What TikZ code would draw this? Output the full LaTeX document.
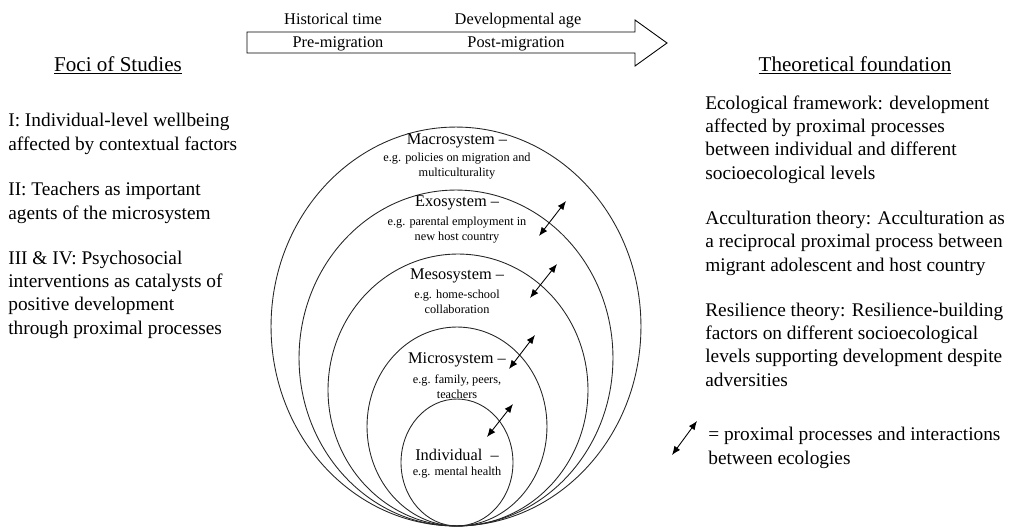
\documentclass[tikz,border=0pt]{standalone}
\usepackage{fontspec}
\setmainfont{Liberation Serif}
\usepackage{tikz}
\usetikzlibrary{shapes.geometric,arrows.meta,positioning}

\begin{document}
\begin{tikzpicture}[
  x=0.02cm, y=-0.02cm,
  body/.style={align=left, inner sep=0pt, font=\fontsize{11}{13.1}\selectfont},
  heading/.style={inner sep=0pt, font=\fontsize{12}{14}\selectfont},
  eco/.style={draw=black!85, line width=0.5pt, ellipse, inner sep=0pt},
  syshead/.style={inner sep=0pt, font=\fontsize{9.3}{11}\selectfont},
  sysnote/.style={align=center, inner sep=0pt, font=\fontsize{7}{8.6}\selectfont},
  timetext/.style={inner sep=0pt, font=\fontsize{9.3}{11}\selectfont},
  link/.style={<->, line width=0.5pt},
  >={Latex[length=5pt,width=4pt]}
]
\useasboundingbox (0,0) rectangle (1009,528);

% Time arrow
\draw[line width=0.5pt] (247,32) -- (635,32) -- (635,20) -- (667,43)
  -- (635,66) -- (635,53) -- (247,53) -- cycle;
\node[timetext, anchor=base] (hist) at (333,24) {Historical time};
\node[timetext, anchor=base] (devage) at (518,24) {Developmental age};
\node[timetext, anchor=base] (pre) at (338,47) {Pre-migration};
\node[timetext, anchor=base] (post) at (516,47) {Post-migration};

% Foci of studies (anchored on the last line)
\node[heading, anchor=base] (foci) at (118,71) {\underline{Foci of Studies}};
\node[body, anchor=base west] (focione) at (8,150)
  {I: Individual-level wellbeing\\affected by contextual factors};
\node[body, anchor=base west] (focitwo) at (8,219)
  {II: Teachers as important\\agents of the microsystem};
\node[body, anchor=base west] (focithree) at (8,334)
  {III \& IV: Psychosocial\\interventions as catalysts of\\positive development\\through proximal processes};

% Ecological systems
\node[eco, minimum width=7.4cm, minimum height=7.98cm] (macro) at (456,326.5) {};
\node[eco, minimum width=6.28cm, minimum height=6.72cm] (exo) at (456,358) {};
\node[eco, minimum width=5.2cm, minimum height=5.44cm] (meso) at (458,390) {};
\node[eco, minimum width=3.6cm, minimum height=3.98cm] (micro) at (457,426.5) {};
\node[eco, minimum width=2.24cm, minimum height=2.54cm] (indiv) at (457,462.5) {};

\node[syshead] (macrohd) at (457,141) {Macrosystem –};
\node[sysnote] (macront) at (457,166.5) {e.g. policies on migration and\\multiculturality};
\node[syshead] (exohd) at (457,203) {Exosystem –};
\node[sysnote] (exont) at (457,230) {e.g. parental employment in\\new host country};
\node[syshead] (mesohd) at (457,276) {Mesosystem –};
\node[sysnote] (mesont) at (457,302) {e.g. home-school\\collaboration};
\node[syshead] (microhd) at (457,360) {Microsystem –};
\node[sysnote] (micront) at (457,387) {e.g. family, peers,\\teachers};
\node[syshead] (indivhd) at (457,455) {Individual \ –};
\node[sysnote] (indivnt) at (457,473) {e.g. mental health};

% Proximal processes
\coordinate (exoA) at (539,236);
\coordinate (exoB) at (566,201);
\coordinate (mesoA) at (530,298);
\coordinate (mesoB) at (557,264);
\coordinate (microA) at (509,369);
\coordinate (microB) at (535,335);
\coordinate (indivA) at (487,437);
\coordinate (indivB) at (513,404);
\draw[link] (exoA) -- (exoB);
\draw[link] (mesoA) -- (mesoB);
\draw[link] (microA) -- (microB);
\draw[link] (indivA) -- (indivB);

% Theoretical foundation (anchored on the last line)
\node[heading, anchor=base] (theory) at (855,71) {\underline{Theoretical foundation}};
\node[body, anchor=base west] (ecol) at (705,179)
  {Ecological framework: development\\affected by proximal processes\\between individual and different\\socioecological levels};
\node[body, anchor=base west] (accult) at (705,271)
  {Acculturation theory: Acculturation as\\a reciprocal proximal process between\\migrant adolescent and host country};
\node[body, anchor=base west] (resil) at (705,386)
  {Resilience theory: Resilience-building\\factors on different socioecological\\levels supporting development despite\\adversities};

% Legend
\coordinate (keyA) at (672,455);
\coordinate (keyB) at (697,421);
\draw[link] (keyA) -- (keyB);
\node[body, anchor=base west] (keytext) at (708,464)
  {= proximal processes and interactions\\between ecologies};
\end{tikzpicture}
\end{document}
